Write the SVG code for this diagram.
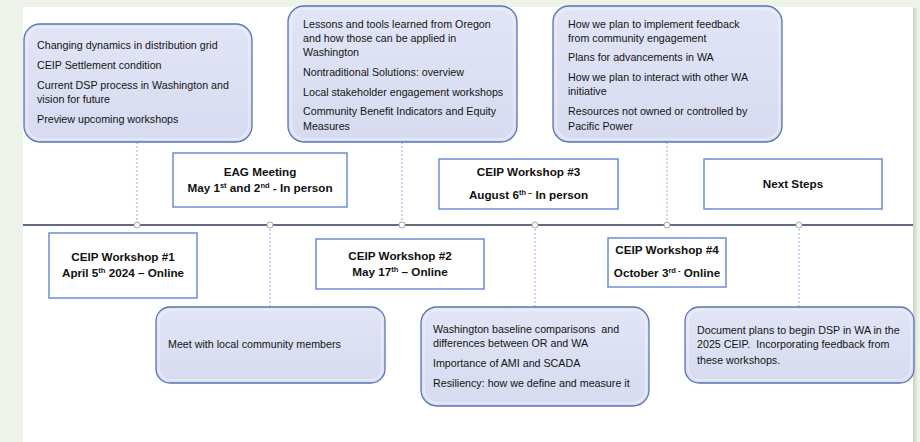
<svg xmlns="http://www.w3.org/2000/svg" width="920" height="442" viewBox="0 0 920 442">
<defs>
<linearGradient id="cg" x1="0" y1="0" x2="0" y2="1">
<stop offset="0" stop-color="#e2e5f6"/>
<stop offset="1" stop-color="#d6dbf0"/>
</linearGradient>
<linearGradient id="sh" x1="0" y1="0" x2="1" y2="0">
<stop offset="0" stop-color="#c9cdc6"/>
<stop offset="1" stop-color="#eef3ea"/>
</linearGradient>
</defs>
<style>
.callout{fill:url(#cg);stroke:#5a75b2;stroke-width:1.3}
.inner{fill:none;stroke:#eef0fb;stroke-width:1.5;opacity:0.8}
.box{fill:#ffffff;stroke:#6e8fd2;stroke-width:1.5}
.t{font-family:"Liberation Sans",Arial,sans-serif;font-size:10.7px;fill:#141414;white-space:pre}
.b{font-family:"Liberation Sans",Arial,sans-serif;font-size:11.7px;font-weight:bold;fill:#111111;text-anchor:middle}
.sup{font-size:7.5px}
.dot{fill:#ffffff;stroke:#a8a8a8;stroke-width:1}
.dash{stroke:#8fb0e8;stroke-width:1;stroke-dasharray:2,2;fill:none}
</style>
<rect x="0" y="0" width="920" height="442" fill="#eef3ea"/>
<rect x="913" y="8" width="5" height="434" fill="url(#sh)"/>
<rect x="23" y="7" width="890" height="435" fill="#ffffff"/>

<g id="connectors">
<line x1="23" y1="225" x2="913" y2="225" stroke="#2d3856" stroke-width="1.5"/>
<line class="dash" x1="137" y1="142" x2="137" y2="225"/>
<line class="dash" x1="402" y1="142" x2="402" y2="225"/>
<line class="dash" x1="667" y1="142" x2="667" y2="225"/>
<line class="dash" x1="270" y1="225" x2="270" y2="307"/>
<line class="dash" x1="535" y1="225" x2="535" y2="307"/>
<line class="dash" x1="799" y1="225" x2="799" y2="307"/>
<circle class="dot" cx="137" cy="225" r="3"/>
<circle class="dot" cx="270" cy="225" r="3"/>
<circle class="dot" cx="402" cy="225" r="3"/>
<circle class="dot" cx="535" cy="225" r="3"/>
<circle class="dot" cx="667" cy="225" r="3"/>
<circle class="dot" cx="799" cy="225" r="3"/>
</g>

<g id="callout-1">
<rect class="callout" x="24" y="24" width="228" height="118" rx="16"/>
<rect class="inner" x="27" y="27" width="222" height="112" rx="14"/>
<text class="t" x="37" y="49">Changing dynamics in distribution grid</text>
<text class="t" x="37" y="69">CEIP Settlement condition</text>
<text class="t" x="37" y="89">Current DSP process in Washington and</text>
<text class="t" x="37" y="103">vision for future</text>
<text class="t" x="37" y="123">Preview upcoming workshops</text>
</g>

<g id="callout-2">
<rect class="callout" x="288" y="6" width="229" height="136" rx="16"/>
<rect class="inner" x="291" y="9" width="223" height="130" rx="14"/>
<text class="t" x="303" y="28">Lessons and tools learned from Oregon</text>
<text class="t" x="303" y="42">and how those can be applied in</text>
<text class="t" x="303" y="56">Washington</text>
<text class="t" x="303" y="76">Nontraditional Solutions: overview</text>
<text class="t" x="303" y="96">Local stakeholder engagement workshops</text>
<text class="t" x="303" y="115">Community Benefit Indicators and Equity</text>
<text class="t" x="303" y="130">Measures</text>
</g>

<g id="callout-3">
<rect class="callout" x="553" y="6" width="229" height="136" rx="16"/>
<rect class="inner" x="556" y="9" width="223" height="130" rx="14"/>
<text class="t" x="568" y="28">How we plan to implement feedback</text>
<text class="t" x="568" y="42">from community engagement</text>
<text class="t" x="568" y="61">Plans for advancements in WA</text>
<text class="t" x="568" y="81">How we plan to interact with other WA</text>
<text class="t" x="568" y="95">initiative</text>
<text class="t" x="568" y="115">Resources not owned or controlled by</text>
<text class="t" x="568" y="130">Pacific Power</text>
</g>

<g id="eag-meeting">
<rect class="box" x="173" y="153" width="174" height="54"/>
<text class="b" x="260" y="176">EAG Meeting</text>
<text class="b" x="260" y="192">May 1<tspan class="sup" dy="-4">st</tspan><tspan dy="4"> and 2</tspan><tspan class="sup" dy="-4">nd</tspan><tspan dy="4"> - In person</tspan></text>
</g>

<g id="workshop-3">
<rect class="box" x="439" y="159" width="179" height="50"/>
<text class="b" x="528.5" y="176">CEIP Workshop #3</text>
<text class="b" x="528.5" y="199">August 6<tspan class="sup" dy="-4">th –</tspan><tspan dy="4"> In person</tspan></text>
</g>

<g id="next-steps">
<rect class="box" x="704" y="159" width="178" height="50"/>
<text class="b" x="793" y="188">Next Steps</text>
</g>

<g id="workshop-1">
<rect class="box" x="49" y="233" width="148" height="65"/>
<text class="b" x="123" y="261">CEIP Workshop #1</text>
<text class="b" x="123" y="277">April 5<tspan class="sup" dy="-4">th</tspan><tspan dy="4"> 2024 – Online</tspan></text>
</g>

<g id="workshop-2">
<rect class="box" x="316" y="239" width="168" height="50"/>
<text class="b" x="400" y="260">CEIP Workshop #2</text>
<text class="b" x="400" y="276">May 17<tspan class="sup" dy="-4">th</tspan><tspan dy="4"> – Online</tspan></text>
</g>

<g id="workshop-4">
<rect class="box" x="608" y="238" width="118" height="49"/>
<text class="b" x="667" y="254">CEIP Workshop #4</text>
<text class="b" x="667" y="277">October 3<tspan class="sup" dy="-4">rd -</tspan><tspan dy="4"> Online</tspan></text>
</g>

<g id="callout-4">
<rect class="callout" x="156" y="307" width="229" height="76" rx="14"/>
<rect class="inner" x="159" y="310" width="223" height="70" rx="12"/>
<text class="t" x="168" y="348">Meet with local community members</text>
</g>

<g id="callout-5">
<rect class="callout" x="421" y="307" width="228" height="99" rx="16"/>
<rect class="inner" x="424" y="310" width="222" height="93" rx="14"/>
<text class="t" x="433" y="333">Washington baseline comparisons  and</text>
<text class="t" x="433" y="347">differences between OR and WA</text>
<text class="t" x="433" y="367">Importance of AMI and SCADA</text>
<text class="t" x="433" y="387">Resiliency: how we define and measure it</text>
</g>

<g id="callout-6">
<rect class="callout" x="685" y="307" width="229" height="76" rx="14"/>
<rect class="inner" x="688" y="310" width="223" height="70" rx="12"/>
<text class="t" x="697" y="334">Document plans to begin DSP in WA in the</text>
<text class="t" x="697" y="348">2025 CEIP.  Incorporating feedback from</text>
<text class="t" x="697" y="364">these workshops.</text>
</g>
</svg>
